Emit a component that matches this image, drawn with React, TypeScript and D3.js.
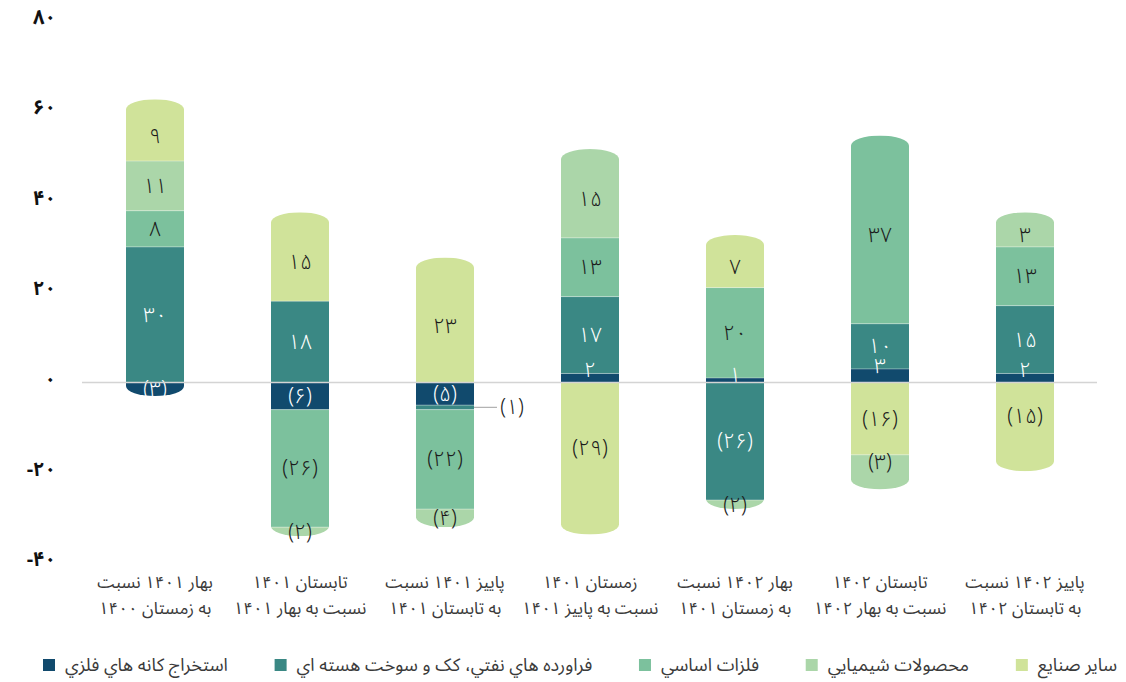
import { useEffect, useRef } from 'react';
import * as d3 from 'd3';

const W = 1126;
const H = 682;

// category labels (two lines each)
const categoriesTop = [
  'بهار ۱۴۰۱ نسبت',
  'تابستان ۱۴۰۱',
  'پاییز ۱۴۰۱ نسبت',
  'زمستان ۱۴۰۱',
  'بهار ۱۴۰۲ نسبت',
  'تابستان ۱۴۰۲',
  'پاییز ۱۴۰۲ نسبت',
];
const categoriesBottom = [
  'به زمستان ۱۴۰۰',
  'نسبت به بهار ۱۴۰۱',
  'به تابستان ۱۴۰۱',
  'نسبت به پاییز ۱۴۰۱',
  'به زمستان ۱۴۰۱',
  'نسبت به بهار ۱۴۰۲',
  'به تابستان ۱۴۰۲',
];

// series values
const miningOres = [-3, -6, -5, 2, 1, 3, 2];
const petroleumCoke = [30, 18, -1, 17, -26, 10, 15];
const basicMetals = [8, -26, -22, 13, 20, 37, 13];
const chemicals = [11, -2, -4, 15, -2, -3, 3];
const otherIndustries = [9, 15, 23, -29, 7, -16, -15];

const seriesNames = [
  'استخراج کانه هاي فلزي',
  'فراورده هاي نفتي، کک و سوخت هسته اي',
  'فلزات اساسي',
  'محصولات شيميايي',
  'ساير صنايع',
];
const seriesColors = ['#114a6d', '#3a8884', '#7cc19d', '#abd6a9', '#d0e39a'];
const seriesText = ['#ffffff', '#ffffff', '#1b1b1b', '#1b1b1b', '#1b1b1b'];

const yTicks = [-40, -20, 0, 20, 40, 60, 80];

// stacking order away from zero
const posOrder = [0, 1, 2, 3, 4];
const negOrder = [0, 1, 2, 4, 3];
// bars whose lower end carries the long rounded cap
const longBottomCap = [false, false, false, true, false, true, true];

const CAP_EXT = 21;
const CAP_RY = 10;
const FONT = "'Noto Sans Arabic', 'DejaVu Sans', sans-serif";

const faDigits = '۰۱۲۳۴۵۶۷۸۹';
const toFa = (s: string) => s.replace(/[0-9]/g, (d) => faDigits[+d]);
const fmt = (v: number) => (v < 0 ? `(${toFa(String(-v))})` : toFa(String(v)));

const App = () => {
  const ref = useRef<SVGSVGElement>(null);

  useEffect(() => {
    const svg = d3.select(ref.current);
    svg.selectAll('*').remove();

    const allSeries = [miningOres, petroleumCoke, basicMetals, chemicals, otherIndustries];
    const idx = d3.range(categoriesTop.length);

    const x = d3.scaleBand<number>().domain(idx).range([82.5, 1097.5]).paddingInner(0.6).paddingOuter(0.3);
    const y = d3.scaleLinear().domain([-40, 80]).range([563.3, 20.9]);
    const bw = x.bandwidth();

    // y axis labels
    svg
      .append('g')
      .selectAll('text')
      .data(yTicks)
      .enter()
      .append('text')
      .attr('x', 56)
      .attr('y', (d) => y(d) - 3)
      .attr('dominant-baseline', 'central')
      .attr('text-anchor', 'end')
      .attr('direction', 'ltr')
      .style('font-family', FONT)
      .style('font-size', '20px')
      .style('font-weight', 'bold')
      .attr('fill', '#111')
      .text((d) => (d < 0 ? '-' + toFa(String(-d)) : toFa(String(d))));

    const defs = svg.append('defs');
    const bars = svg.append('g');
    const labels = svg.append('g');

    idx.forEach((i) => {
      const segs: { s: number; v: number; a: number; b: number }[] = [];
      let up = 0;
      let down = 0;
      posOrder.forEach((s) => {
        const v = allSeries[s][i];
        if (v > 0) {
          segs.push({ s, v, a: up, b: up + v });
          up += v;
        }
      });
      negOrder.forEach((s) => {
        const v = allSeries[s][i];
        if (v < 0) {
          segs.push({ s, v, a: down, b: down + v });
          down += v;
        }
      });
      const topSeg = segs.filter((d) => d.v > 0).slice(-1)[0];
      const botSeg = segs.filter((d) => d.v < 0).slice(-1)[0];
      const x0 = x(i)!;
      const x1 = x0 + bw;
      const yTop = y(up) - CAP_EXT;
      const yBot = y(down) + (longBottomCap[i] ? CAP_EXT : 0);
      const rx = bw / 2;

      defs
        .append('clipPath')
        .attr('id', 'bar-clip-' + i)
        .append('path')
        .attr(
          'd',
          `M${x0},${yTop + CAP_RY} A${rx},${CAP_RY} 0 0 1 ${x1},${yTop + CAP_RY} ` +
            `L${x1},${yBot - CAP_RY} A${rx},${CAP_RY} 0 0 1 ${x0},${yBot - CAP_RY} Z`
        );

      const g = bars.append('g').attr('clip-path', `url(#bar-clip-${i})`);
      g.selectAll('rect')
        .data(segs)
        .enter()
        .append('rect')
        .attr('x', x0)
        .attr('width', bw)
        .attr('y', (d) => {
          const t = y(Math.max(d.a, d.b));
          return d === topSeg ? t - CAP_EXT : t;
        })
        .attr('height', (d) => {
          let h = Math.abs(y(d.a) - y(d.b));
          if (d === topSeg) h += CAP_EXT;
          if (d === botSeg && longBottomCap[i]) h += CAP_EXT;
          return h;
        })
        .attr('fill', (d) => seriesColors[d.s]);

      // faint separators between segments
      g.selectAll('line')
        .data(segs.filter((d) => d !== topSeg && d !== botSeg))
        .enter()
        .append('line')
        .attr('x1', x0)
        .attr('x2', x1)
        .attr('y1', (d) => y(d.b))
        .attr('y2', (d) => y(d.b))
        .attr('stroke', '#ffffff')
        .attr('stroke-opacity', 0.35)
        .attr('stroke-width', 1);

      segs.forEach((d) => {
        const cx = x0 + bw / 2;
        let cy = (y(d.a) + y(d.b)) / 2;
        if (d === topSeg) cy -= 5;
        else if (d.v > 0 && d.v <= 3) cy = y(d.b) - 3;
        let lx = cx;
        let color = seriesText[d.s];
        if (d.v < 0 && d.v > -2) {
          // too thin: label outside with a leader line
          labels
            .append('line')
            .attr('x1', x1)
            .attr('x2', x1 + 23)
            .attr('y1', cy)
            .attr('y2', cy)
            .attr('stroke', '#b0b0b0')
            .attr('stroke-width', 1.2);
          lx = x1 + 38;
          color = '#1b1b1b';
        }
        labels
          .append('text')
          .attr('x', lx)
          .attr('y', cy)
          .attr('text-anchor', 'middle')
          .attr('dominant-baseline', 'central')
          .attr('direction', 'ltr')
          .style('font-family', FONT)
          .style('font-size', '21px')
          .style('font-weight', 300)
          .attr('fill', color)
          .text(fmt(d.v));
      });
    });

    // zero line
    svg
      .append('line')
      .attr('x1', 82)
      .attr('x2', 1097)
      .attr('y1', y(0))
      .attr('y2', y(0))
      .attr('stroke', '#d4d4d4')
      .attr('stroke-width', 1.5);

    // category labels
    const cat = svg.append('g');
    idx.forEach((i) => {
      const cx = x(i)! + bw / 2;
      [categoriesTop[i], categoriesBottom[i]].forEach((t, k) => {
        cat
          .append('text')
          .attr('x', cx)
          .attr('y', 583 + k * 26)
          .attr('text-anchor', 'middle')
          .attr('dominant-baseline', 'central')
          .attr('direction', 'rtl')
          .style('font-family', FONT)
          .style('font-size', '17px')
          .attr('fill', '#3a3a3a')
          .text(t);
      });
    });

    // legend, laid out right to left and spread across the row
    const legend = svg.append('g');
    const order = [4, 3, 2, 1, 0];
    const texts = order.map((s) =>
      legend
        .append('text')
        .attr('y', 665)
        .attr('text-anchor', 'end')
        .attr('dominant-baseline', 'central')
        .style('font-family', FONT)
        .style('font-size', '18px')
        .attr('fill', '#3a3a3a')
        .text(seriesNames[s])
    );
    const widths = texts.map((t) => (t.node() as SVGTextElement).getComputedTextLength());
    const right = 1117;
    const left = 43;
    const sq = 12;
    const gapText = 10;
    const used = d3.sum(widths) + order.length * (sq + gapText);
    const gapItem = Math.max(14, (right - left - used) / (order.length - 1));
    let cursor = right;
    order.forEach((s, k) => {
      texts[k].attr('x', cursor);
      const sx = cursor - widths[k] - gapText - sq;
      legend
        .append('rect')
        .attr('x', sx)
        .attr('y', 659)
        .attr('width', sq)
        .attr('height', sq)
        .attr('fill', seriesColors[s]);
      cursor = sx - gapItem;
    });
  }, []);

  return (
    <svg
      ref={ref}
      width={W}
      height={H}
      style={{ position: 'absolute', left: 0, top: 0, background: '#fff' }}
    />
  );
};

export default App;
